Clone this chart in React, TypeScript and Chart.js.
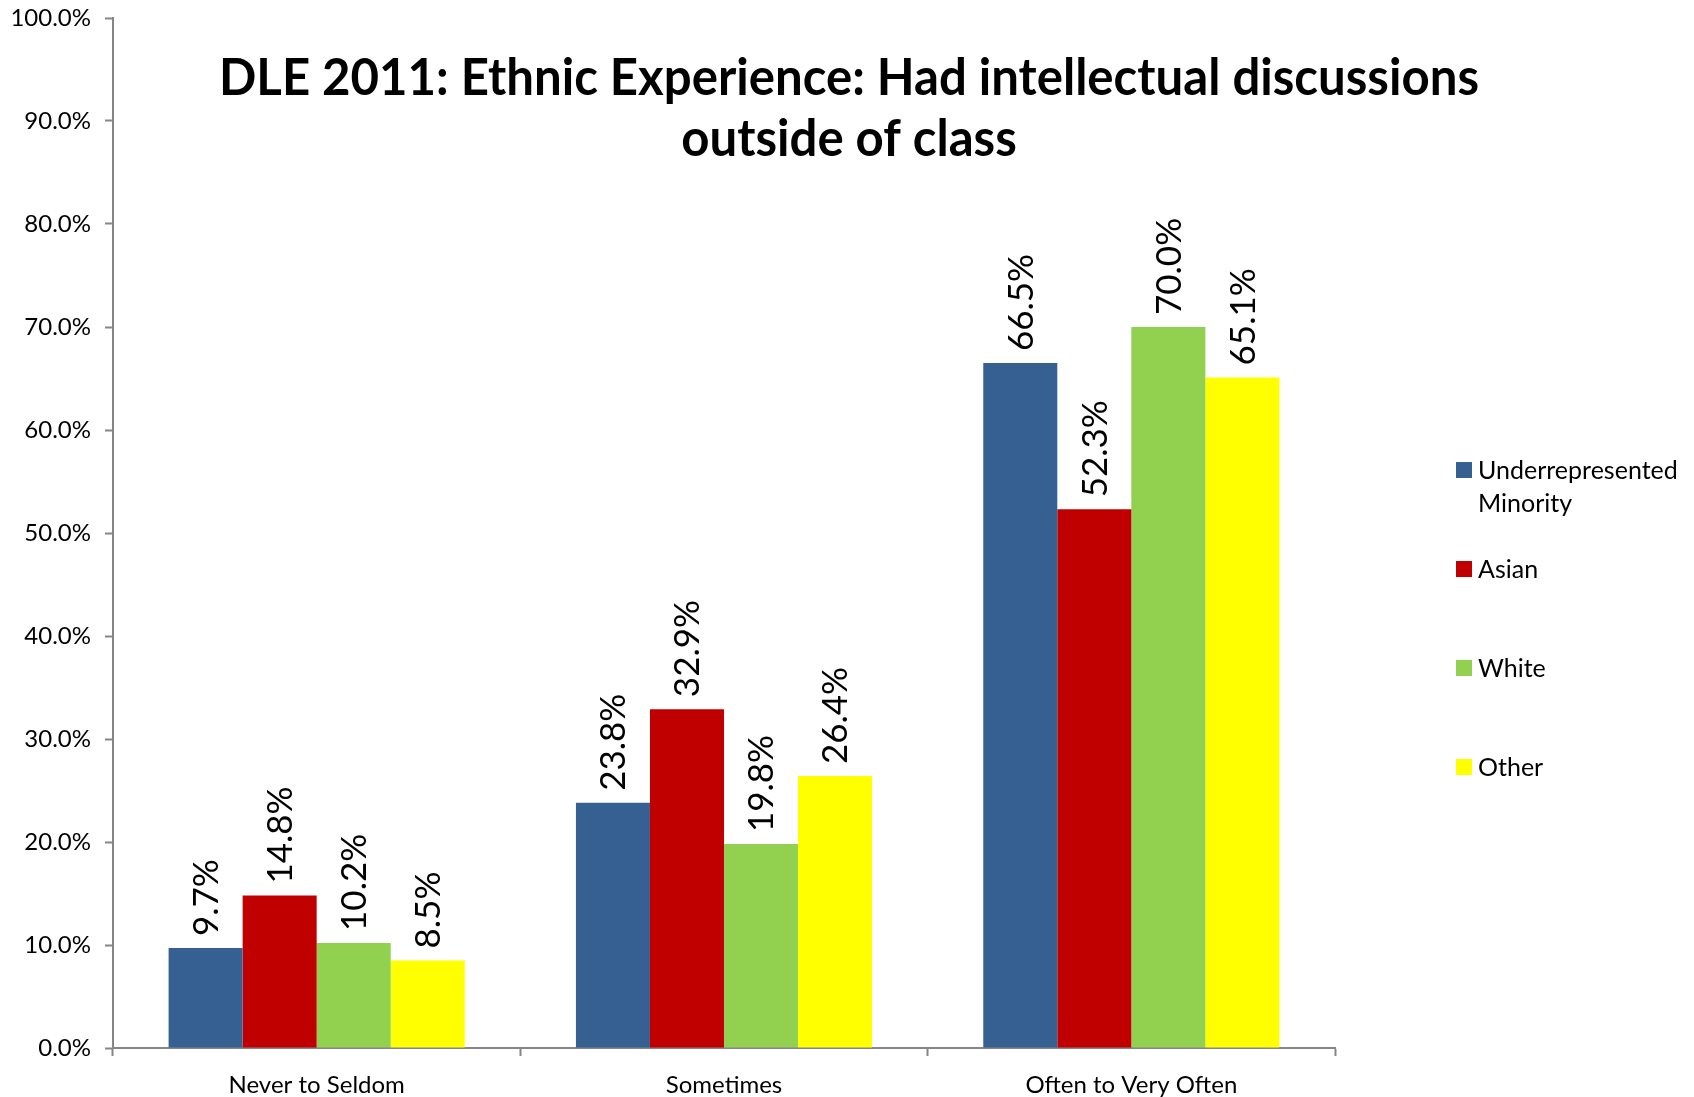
import React, { useEffect, useRef } from "react";
import { Chart, registerables } from "chart.js";

Chart.register(...registerables);

const categories = ["Never to Seldom", "Sometimes", "Often to Very Often"];
const seriesNames = ["Underrepresented Minority", "Asian", "White", "Other"];
const urmValues = [9.7, 23.8, 66.5];
const asianValues = [14.8, 32.9, 52.3];
const whiteValues = [10.2, 19.8, 70.0];
const otherValues = [8.5, 26.4, 65.1];
const seriesColors = ["#376092", "#C00000", "#92D050", "#FFFF00"];
const titleLines = [
  "DLE 2011: Ethnic Experience: Had intellectual discussions",
  "outside of class",
];
const yMin = 0;
const yMax = 100;
const yStep = 10;

const FONT = "Lato, 'Open Sans', sans-serif";

const overlayPlugin = {
  id: "overlay",
  afterDatasetsDraw(chart: any) {
    const ctx = chart.ctx;
    ctx.save();
    ctx.fillStyle = "#000";
    ctx.font = `35px ${FONT}`;
    chart.data.datasets.forEach((ds: any, i: number) => {
      const meta = chart.getDatasetMeta(i);
      meta.data.forEach((bar: any, j: number) => {
        const v = ds.data[j];
        ctx.save();
        ctx.translate(bar.x + 1, bar.y - 12);
        ctx.rotate(-Math.PI / 2);
        ctx.textAlign = "left";
        ctx.textBaseline = "middle";
        ctx.fillText(v.toFixed(1) + "%", 0, 0);
        ctx.restore();
      });
    });
    ctx.restore();
  },
  afterDraw(chart: any) {
    const ctx = chart.ctx;
    // Title
    ctx.save();
    ctx.fillStyle = "#000";
    ctx.font = `bold 51px ${FONT}`;
    ctx.textAlign = "center";
    ctx.textBaseline = "alphabetic";
    const w1 = ctx.measureText(titleLines[0]).width;
    const ratio = Math.min(1, 1260 / w1);
    const cx = 849;
    const baselines = [95, 156];
    titleLines.forEach((line, k) => {
      ctx.save();
      ctx.translate(cx, baselines[k]);
      ctx.scale(ratio, 1);
      ctx.fillText(line, 0, 0);
      ctx.restore();
    });
    ctx.restore();

    // Legend
    ctx.save();
    ctx.font = `25px ${FONT}`;
    ctx.textAlign = "left";
    ctx.textBaseline = "middle";
    const boxX = 1456;
    const textX = 1478;
    const startY = 470;
    const gap = 99;
    const lineH = 33;
    const maxW = 215;
    chart.data.datasets.forEach((ds: any, i: number) => {
      const y = startY + i * gap;
      ctx.fillStyle = ds.backgroundColor;
      ctx.fillRect(boxX, y - 8, 16, 16);
      ctx.fillStyle = "#000";
      const words = String(ds.label).split(" ");
      const lines: string[] = [];
      let cur = "";
      words.forEach((wd) => {
        const test = cur ? cur + " " + wd : wd;
        if (cur && ctx.measureText(test).width > maxW) {
          lines.push(cur);
          cur = wd;
        } else {
          cur = test;
        }
      });
      if (cur) lines.push(cur);
      lines.forEach((ln, k) => ctx.fillText(ln, textX, y + k * lineH + 1));
    });
    ctx.restore();
  },
};

export default function App() {
  const canvasRef = useRef<HTMLCanvasElement | null>(null);

  useEffect(() => {
    if (!canvasRef.current) return;
    const allValues = [urmValues, asianValues, whiteValues, otherValues];
    const chart = new Chart(canvasRef.current, {
      type: "bar",
      data: {
        labels: categories,
        datasets: seriesNames.map((name, i) => ({
          label: name,
          data: allValues[i],
          backgroundColor: seriesColors[i],
          borderWidth: 0,
          categoryPercentage: 0.727,
          barPercentage: 1.0,
        })),
      },
      options: {
        responsive: false,
        animation: false,
        layout: { padding: { top: 18, right: 359, bottom: 0, left: 0 } },
        plugins: {
          legend: { display: false },
          title: { display: false },
          tooltip: { enabled: false },
        },
        scales: {
          x: {
            grid: {
              display: true,
              drawOnChartArea: false,
              drawTicks: true,
              tickLength: 8,
              tickColor: "#868686",
              tickWidth: 2,
              offset: true,
            },
            border: { display: true, color: "#868686", width: 2 },
            ticks: {
              color: "#000",
              font: { family: FONT, size: 24 },
              padding: 15,
              maxRotation: 0,
              autoSkip: false,
            },
            afterFit(scale: any) {
              scale.height = 49;
              scale.paddingLeft = 0;
              scale.paddingRight = 0;
            },
          },
          y: {
            min: yMin,
            max: yMax,
            grid: {
              display: true,
              drawOnChartArea: false,
              drawTicks: true,
              tickLength: 8,
              tickColor: "#868686",
              tickWidth: 2,
            },
            border: { display: true, color: "#868686", width: 2 },
            ticks: {
              stepSize: yStep,
              color: "#000",
              font: { family: FONT, size: 24 },
              padding: 14,
              callback: (v: any) => Number(v).toFixed(1) + "%",
            },
            afterFit(scale: any) {
              scale.width = 113;
              scale.paddingTop = 0;
              scale.paddingBottom = 0;
            },
          },
        },
      },
      plugins: [overlayPlugin],
    });
    return () => chart.destroy();
  }, []);

  return (
    <div style={{ position: "absolute", left: 0, top: 0, width: 1694, height: 1097, background: "#fff" }}>
      <canvas ref={canvasRef} width={1694} height={1097} style={{ display: "block" }} />
    </div>
  );
}
